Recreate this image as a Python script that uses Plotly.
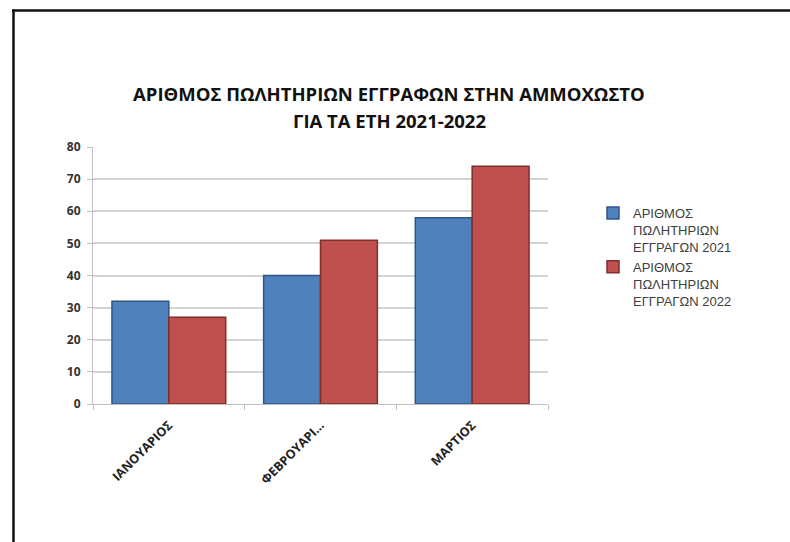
import plotly.graph_objects as go

categories = ["ΙΑΝΟΥΑΡΙΟΣ", "ΦΕΒΡΟΥΑΡΙ…", "ΜΑΡΤΙΟΣ"]
series_2021 = [32, 40, 58]
series_2022 = [27, 51, 74]
name_2021 = "ΑΡΙΘΜΟΣ<br>ΠΩΛΗΤΗΡΙΩΝ<br>ΕΓΓΡΑΓΩΝ 2021"
name_2022 = "ΑΡΙΘΜΟΣ<br>ΠΩΛΗΤΗΡΙΩΝ<br>ΕΓΓΡΑΓΩΝ 2022"
title_line1 = "ΑΡΙΘΜΟΣ ΠΩΛΗΤΗΡΙΩΝ ΕΓΓΡΑΦΩΝ ΣΤΗΝ ΑΜΜΟΧΩΣΤΟ"
title_line2 = "ΓΙΑ ΤΑ ΕΤΗ 2021-2022"
y_ticks = [0, 10, 20, 30, 40, 50, 60, 70, 80]

W, H = 790, 542
L, R, T, B = 93, 548, 147, 404

fig = go.Figure()
fig.add_trace(go.Bar(x=categories, y=series_2021, name=name_2021,
                     marker=dict(color="#4F81BD", line=dict(color="#2F5583", width=1.5))))
fig.add_trace(go.Bar(x=categories, y=series_2022, name=name_2022,
                     marker=dict(color="#C0504D", line=dict(color="#7E2E2C", width=1.5))))

def px(x):
    return (x - L) / (R - L)

def py(y):
    return (B - y) / (B - T)

fig.update_layout(
    width=W, height=H,
    margin=dict(l=L, r=W - R, t=T, b=H - B, pad=0),
    paper_bgcolor="white", plot_bgcolor="white",
    barmode="group", bargap=0.25, bargroupgap=0,
    legend=dict(x=px(593), y=py(198), xanchor="left", yanchor="top", valign="top",
                font=dict(family="Liberation Sans", size=13, color="#404040"),
                tracegroupgap=9, itemwidth=30, bgcolor="rgba(0,0,0,0)"),
    showlegend=True,
    font=dict(family="Open Sans"),
)
for txt, yc in [(title_line1, 93), (title_line2, 121)]:
    fig.add_annotation(text=txt, xref="paper", yref="paper", x=px(389), y=py(yc),
                       xanchor="center", yanchor="middle", showarrow=False,
                       font=dict(family="Open Sans", size=18.5, color="#111111", weight="bold"))

fig.update_yaxes(range=[0, 80], tickvals=y_ticks, showgrid=True, gridcolor="#D4D4D4", gridwidth=1.5,
                 showline=True, linecolor="#BFBFBF", linewidth=1, ticks="outside", ticklen=5,
                 tickcolor="#BFBFBF", zeroline=False, ticklabelstandoff=4,
                 tickfont=dict(family="Open Sans", size=12, color="#333333", weight="bold"))
fig.update_xaxes(showline=True, linecolor="#BFBFBF", linewidth=1, ticks="outside", ticklen=5,
                 tickcolor="#BFBFBF", tickson="boundaries", tickangle=-45, ticklabelstandoff=8,
                 tickfont=dict(family="Open Sans", size=12.5, color="#222222", weight="bold"))

# slide frame (black border on top and left)
fig.add_shape(type="line", xref="paper", yref="paper", x0=px(12), x1=px(W + 5), y0=py(10.5), y1=py(10.5),
              line=dict(color="#111111", width=2.5))
fig.add_shape(type="line", xref="paper", yref="paper", x0=px(13.5), x1=px(13.5), y0=py(9.5), y1=py(H + 5),
              line=dict(color="#111111", width=2.5))

fig.write_html("out.html")
